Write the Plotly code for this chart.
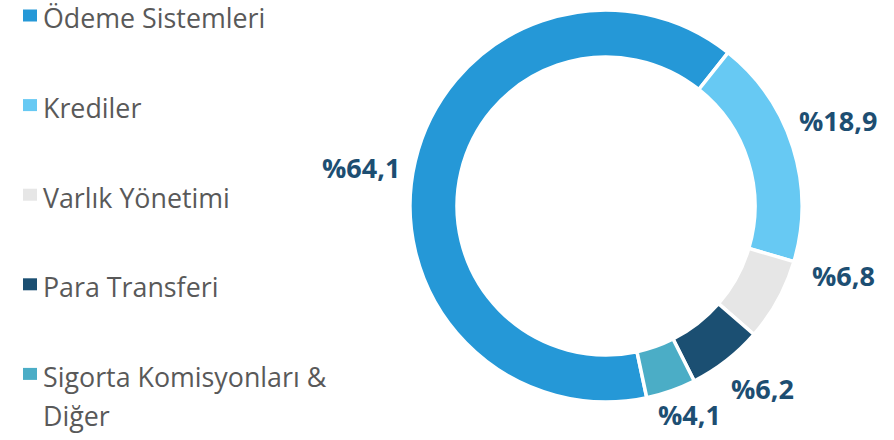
import math
import plotly.graph_objects as go

W, H = 894, 440

categories = ["Ödeme Sistemleri", "Krediler", "Varlık Yönetimi", "Para Transferi",
              "Sigorta Komisyonları &<br>Diğer"]
shares = [64.1, 18.9, 6.8, 6.2, 4.1]
colors = ["#2598D7", "#67C9F3", "#E6E6E6", "#1B4F72", "#4BADC6"]
label_color = "#1D4E72"
legend_text_color = "#595959"

pct_text = ["%" + f"{v:.1f}".replace(".", ",") for v in shares]

# donut geometry (pixels)
CX, CY, R = 606, 206, 196
ROTATION = 168
# manual label placement (as in the source, labels were dragged): radius and angular nudge
label_radius = [248, 247, 247, 240, 224]
label_nudge = [-4.3, -2.8, -12.4, -2.7, -2.4]

def px_x(p):
    return p / W

def px_y(p):
    return 1 - p / H

fig = go.Figure()
fig.add_trace(go.Pie(
    labels=[c.replace("<br>", " ") for c in categories],
    values=shares,
    textinfo="none",
    hole=0.76,
    sort=False,
    direction="clockwise",
    rotation=ROTATION,
    marker=dict(colors=colors, line=dict(color="white", width=3.5)),
    domain=dict(x=[px_x(CX - R), px_x(CX + R)], y=[px_y(CY + R), px_y(CY - R)]),
    showlegend=False,
    hoverinfo="skip",
))

# percentage labels placed around the ring at each slice's mid-angle
total = sum(shares)
start = ROTATION
for v, t, rr, nd in zip(shares, pct_text, label_radius, label_nudge):
    span = v / total * 360
    mid = math.radians(start + span / 2 + nd)
    start += span
    lx = CX + rr * math.sin(mid)
    ly = CY - rr * math.cos(mid)
    fig.add_annotation(xref="paper", yref="paper", x=px_x(lx), y=px_y(ly),
                       xanchor="center", yanchor="middle", showarrow=False, text=t,
                       borderpad=0,
                       font=dict(family="Open Sans", size=27, color=label_color, weight="bold"))

# custom legend (markers + text)
leg_y0 = 15.5
leg_step = 89.6
line_gap = 39
for i, (cat, col) in enumerate(zip(categories, colors)):
    cy = leg_y0 + i * leg_step
    fig.add_shape(type="rect", xref="paper", yref="paper",
                  x0=px_x(23), x1=px_x(37), y0=px_y(cy + 6), y1=px_y(cy - 6),
                  fillcolor=col, line=dict(width=0))
    for j, part in enumerate(cat.split("<br>")):
        fig.add_annotation(xref="paper", yref="paper", x=px_x(42), y=px_y(cy + 2.5 + j * line_gap),
                           xanchor="left", yanchor="middle", showarrow=False, text=part,
                           borderpad=0,
                           font=dict(family="Open Sans", size=26.8, color=legend_text_color))

fig.update_layout(
    width=W, height=H,
    margin=dict(l=0, r=0, t=0, b=0),
    paper_bgcolor="white", plot_bgcolor="white",
)

fig.write_html("out.html", config={"displayModeBar": False},
               post_script="document.body.style.margin='0';")
